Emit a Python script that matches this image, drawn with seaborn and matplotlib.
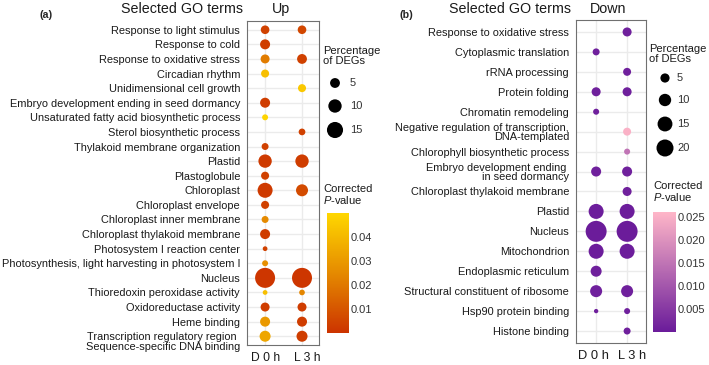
"""
GO term dot plots - up (a) and down (b) regulated genes
"""
import matplotlib
matplotlib.use("Agg")
import matplotlib.pyplot as plt
import pandas as pd
import seaborn as sns
from matplotlib.colors import LinearSegmentedColormap, Normalize
from matplotlib.cm import ScalarMappable
from matplotlib.transforms import blended_transform_factory, offset_copy, ScaledTranslation

W, H, DPI = 709, 365, 100

times = ["D 0 h", "L 3 h"]

# ---- (a) Up ----
up_terms = [
    "Response to light stimulus",
    "Response to cold",
    "Response to oxidative stress",
    "Circadian rhythm",
    "Unidimensional cell growth",
    "Embryo development ending in seed dormancy",
    "Unsaturated fatty acid biosynthetic process",
    "Sterol biosynthetic process",
    "Thylakoid membrane organization",
    "Plastid",
    "Plastoglobule",
    "Chloroplast",
    "Chloroplast envelope",
    "Chloroplast inner membrane",
    "Chloroplast thylakoid membrane",
    "Photosystem I reaction center",
    "Photosynthesis, light harvesting in photosystem I",
    "Nucleus",
    "Thioredoxin peroxidase activity",
    "Oxidoreductase activity",
    "Heme binding",
    "Transcription regulatory region ",
]
up_d0_pct = [3.6, 5.2, 4.0, 3.0, None, 5.2, 1.2, None, 2.0, 10.0, 3.0, 12.9,
             3.0, 2.0, 5.2, 0.4, 1.2, 23.7, 0.4, 4.0, 5.2, 6.5]
up_d0_padj = [0.004, 0.003, 0.021, 0.042, None, 0.003, 0.049, None, 0.004, 0.002, 0.004, 0.002,
              0.004, 0.025, 0.003, 0.004, 0.027, 0.001, 0.042, 0.003, 0.030, 0.034]
up_l3_pct = [3.6, None, 5.0, None, 3.0, None, None, 1.8, None, 10.0, None, 7.9,
             None, None, None, None, None, 23.7, 1.0, 4.0, 5.2, 6.5]
up_l3_padj = [0.006, None, 0.004, None, 0.045, None, None, 0.004, None, 0.003, None, 0.007,
              None, None, None, None, None, 0.001, 0.024, 0.003, 0.003, 0.003]
up_extra_line = "Sequence-specific DNA binding"

# ---- (b) Down ----
down_terms = [
    "Response to oxidative stress",
    "Cytoplasmic translation",
    "rRNA processing",
    "Protein folding",
    "Chromatin remodeling",
    "Negative regulation of transcription,\nDNA-templated",
    "Chlorophyll biosynthetic process",
    "Embryo development ending \nin seed dormancy",
    "Chloroplast thylakoid membrane",
    "Plastid",
    "Nucleus",
    "Mitochondrion",
    "Endoplasmic reticulum",
    "Structural constituent of ribosome",
    "Hsp90 protein binding",
    "Histone binding",
]
down_d0_pct = [None, 2.4, None, 4.8, 1.5, None, None, 6.2, None, 15.3, 31.0, 15.3, 7.7, 9.4, 0.2, None]
down_d0_padj = [None, 0.001, None, 0.001, 0.001, None, None, 0.001, None, 0.0005, 0.0003, 0.0005,
                0.001, 0.001, 0.001, None]
down_l3_pct = [4.8, None, 3.5, 4.8, None, 3.5, 1.5, 6.2, 4.8, 15.3, 31.0, 15.3, None, 9.4, 1.5, 2.4]
down_l3_padj = [0.001, None, 0.001, 0.001, None, 0.025, 0.015, 0.001, 0.001, 0.0005, 0.0003, 0.0005,
                None, 0.001, 0.001, 0.001]


def px_rect(l, t, r, b):
    return [l / W, 1 - b / H, (r - l) / W, (b - t) / H]


def long_table(terms, d0_pct, d0_p, l3_pct, l3_p):
    rows = []
    for i, term in enumerate(terms):
        for j, (pct, p) in enumerate([(d0_pct[i], d0_p[i]), (l3_pct[i], l3_p[i])]):
            if pct is not None:
                rows.append({"term": term, "xpos": j, "ypos": i, "pct": pct, "padj": p})
    return pd.DataFrame(rows)


def area(d_px):
    # marker area (pt^2) for a diameter in pixels
    return (d_px * 72 / DPI) ** 2


def dot_panel(ax, df, terms, cmap, norm, sizes, size_max, xpad, xfont, xshift):
    sns.scatterplot(data=df, x="xpos", y="ypos", hue="padj", size="pct",
                    palette=cmap, hue_norm=norm, sizes=sizes, size_norm=(0, size_max),
                    linewidth=0, legend=False, ax=ax, zorder=3)
    n = len(terms)
    ax.set_xlim(-xpad[0], 1 + xpad[1])
    ax.set_ylim(n - 1 + 0.6, -0.6)
    ax.set_xticks(range(len(times)))
    ax.set_xticklabels(times, fontsize=xfont, color="#1a1a1a")
    ax.set_yticks(range(n))
    ax.set_yticklabels(terms, fontsize=7.9, color="#1a1a1a", linespacing=0.95)
    ax.set_xlabel("")
    ax.set_ylabel("")
    ax.grid(True, color="#EBEBEB", linewidth=1.0)
    ax.set_axisbelow(True)
    ax.tick_params(axis="both", length=2.2, width=0.8, color="#333333", pad=2.8)
    for s in ax.spines.values():
        s.set_color("#707070")
        s.set_linewidth(0.8)
    # small horizontal nudges of the time labels, as in the original figure
    for lab, dx in zip(ax.get_xticklabels(), xshift):
        lab.set_transform(lab.get_transform() + ScaledTranslation(dx / DPI, 0, fig.dpi_scale_trans))


def colorbar(fig, rect, cmap, norm, ticks, fmt):
    cax = fig.add_axes(px_rect(*rect))
    cb = fig.colorbar(ScalarMappable(norm=norm, cmap=cmap), cax=cax)
    cb.outline.set_visible(False)
    cb.set_ticks(ticks)
    cb.set_ticklabels([fmt.format(t) for t in ticks])
    cax.tick_params(direction="in", color="white", length=4, width=0.6,
                    left=True, right=True, labelsize=8, pad=1.5, labelcolor="#333333")
    return cb


sns.set_theme(style="white")
plt.rcParams["font.family"] = ["Liberation Sans", "DejaVu Sans"]
plt.rcParams["mathtext.fontset"] = "custom"
plt.rcParams["mathtext.rm"] = "Liberation Sans"
plt.rcParams["mathtext.it"] = "Liberation Sans:italic"

fig = plt.figure(figsize=(W / DPI, H / DPI), dpi=DPI)
fig.patch.set_facecolor("white")

# ----- panel (a)
cmap_up = LinearSegmentedColormap.from_list("up", ["#CC3300", "#E58A00", "#FFD700"])
norm_up = Normalize(0, 0.05)
up_max = 25
up_sizes = (area(4.0), area((16 + 16.2 * up_max) ** 0.5))
ax_a = fig.add_axes(px_rect(247, 21, 319, 345))
df_up = long_table(up_terms, up_d0_pct, up_d0_padj, up_l3_pct, up_l3_padj)
dot_panel(ax_a, df_up, up_terms, cmap_up, norm_up, up_sizes, up_max, (0.49, 0.46), 8.7, (0, 5))
tr = offset_copy(blended_transform_factory(ax_a.transAxes, ax_a.transData),
                 fig=fig, x=-5.0, y=0, units="points")
ax_a.text(0, len(up_terms) - 1 + 0.75, up_extra_line, transform=tr, ha="right", va="center",
          fontsize=7.9, color="#1a1a1a")

# ----- panel (b)
cmap_down = LinearSegmentedColormap.from_list("down", ["#6A1B9A", "#FFB6C8"])
norm_down = Normalize(0, 0.026)
down_max = 32
down_sizes = (area(4.0), area((16 + 13.65 * down_max) ** 0.5))
ax_b = fig.add_axes(px_rect(576, 20, 646, 343))
df_down = long_table(down_terms, down_d0_pct, down_d0_padj, down_l3_pct, down_l3_padj)
dot_panel(ax_b, df_down, down_terms, cmap_down, norm_down, down_sizes, down_max, (0.65, 0.61),
          9.3, (-3, 5))

# ----- overlay for titles and legends (pixel coordinates)
ov = fig.add_axes([0, 0, 1, 1])
ov.set_xlim(0, W)
ov.set_ylim(H, 0)
ov.axis("off")
ov.patch.set_alpha(0)

for lab, x in [("(a)", 46), ("(b)", 406)]:
    ov.text(x, 15, lab, fontsize=7.7, fontweight="bold", ha="center", va="center")
for right, x_sub, sub in [(243, 281, "Up"), (571, 608, "Down")]:
    ov.text(right, 9, "Selected GO terms", fontsize=10.3, ha="right", va="center", color="#1a1a1a")
    ov.text(x_sub, 9, sub, fontsize=10.3, ha="center", va="center", color="#1a1a1a")

# size legends
legend_specs = [
    (323, 56, 335, 350, [83, 106, 130], [5, 10, 15], up_sizes, up_max),
    (649, 54, 665, 677, [78, 100, 124, 148], [5, 10, 15, 20], down_sizes, down_max),
]
for tx, ty, kx, lx, ky, vals, sizes, vmax in legend_specs:
    ov.text(tx, ty, "Percentage\nof DEGs", fontsize=8, ha="left", va="center",
            linespacing=0.95, color="#1a1a1a")
    s = [sizes[0] + v / vmax * (sizes[1] - sizes[0]) for v in vals]
    ov.scatter([kx] * len(vals), ky, s=s, color="black", linewidth=0)
    for y, v in zip(ky, vals):
        ov.text(lx, y, str(v), fontsize=8, ha="left", va="center", color="#333333")

# colour bars
ov.text(323, 195, "Corrected\n$\\it{P}$-value", fontsize=8, ha="left", va="center",
        linespacing=0.95, color="#1a1a1a")
ov.text(653, 192, "Corrected\n$\\it{P}$-value", fontsize=8, ha="left", va="center",
        linespacing=0.95, color="#1a1a1a")
colorbar(fig, (327, 213, 349, 333), cmap_up, norm_up, [0.01, 0.02, 0.03, 0.04], "{:.2f}")
colorbar(fig, (653, 212, 676, 332), cmap_down, norm_down,
         [0.005, 0.010, 0.015, 0.020, 0.025], "{:.3f}")

fig.savefig("out.png", dpi=DPI, facecolor="white")
